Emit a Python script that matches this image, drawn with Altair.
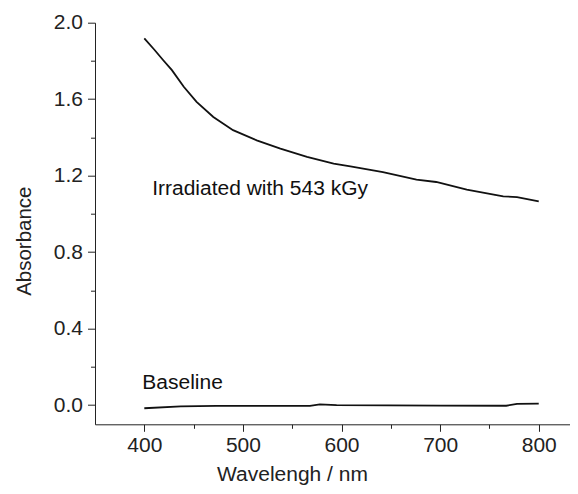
import altair as alt
import pandas as pd

# Irradiated sample spectrum
irr_wl = [400, 410, 419, 428, 440, 453, 470, 490, 514, 538, 565, 592, 609, 632, 642, 676, 696, 727, 764, 778, 800]
irr_abs = [1.918, 1.86, 1.805, 1.752, 1.665, 1.586, 1.507, 1.438, 1.385, 1.342, 1.298, 1.263, 1.249, 1.228, 1.219, 1.179, 1.167, 1.127, 1.092, 1.088, 1.066]

# Baseline spectrum
base_wl = [400, 437, 473, 568, 578, 595, 700, 767, 778, 800]
base_abs = [-0.016, -0.006, -0.004, -0.004, 0.004, 0.0, -0.002, -0.003, 0.007, 0.008]

# Annotations (data coordinates)
ann_text = ["Irradiated with 543 kGy", "Baseline"]
ann_x = [408, 398]
ann_y = [1.128, 0.115]

x_ticks = [400, 450, 500, 550, 600, 650, 700, 750, 800]
y_ticks = [0.0, 0.2, 0.4, 0.6, 0.8, 1.0, 1.2, 1.4, 1.6, 1.8, 2.0]

FONT = "Liberation Sans"

lines = pd.DataFrame({
    "wl": irr_wl + base_wl,
    "A": irr_abs + base_abs,
    "series": ["irr"] * len(irr_wl) + ["base"] * len(base_wl),
})
ann = pd.DataFrame({"t": ann_text, "x": ann_x, "y": ann_y})

xscale = alt.Scale(domain=[350, 831.7], nice=False, zero=False)
yscale = alt.Scale(domain=[-0.1, 2.0], nice=False, zero=False)

xaxis = alt.Axis(
    values=x_ticks,
    labelExpr="datum.value % 100 == 0 ? format(datum.value, 'd') : ''",
    tickSize={"condition": {"test": "datum.value % 100 == 0", "value": 7}, "value": 4},
    grid=False, domainColor="#222", tickColor="#222", labelColor="#222",
    labelFont=FONT, labelFontSize=21, labelPadding=3,
    title="Wavelengh / nm", titleFont=FONT, titleFontSize=21, titleFontWeight="normal",
    titleColor="#222", titleX=197, titleY=56.5, titleBaseline="alphabetic", titleAnchor="middle",
    titleAlign="center",
)
yaxis = alt.Axis(
    values=y_ticks,
    labelExpr="round(datum.value * 10) % 4 == 0 ? format(datum.value, '.1f') : ''",
    tickSize={"condition": {"test": "round(datum.value * 10) % 4 == 0", "value": 7.5}, "value": 4.5},
    grid=False, domainColor="#222", tickColor="#222", labelColor="#222",
    labelFont=FONT, labelFontSize=21, labelPadding=5,
    title="Absorbance", titleFont=FONT, titleFontSize=20.5, titleFontWeight="normal",
    titleColor="#222", titleX=-71, titleY=218, titleAngle=-90, titleBaseline="middle",
    titleAlign="center",
)

line = alt.Chart(lines).mark_line(color="#111", strokeWidth=1.8).encode(
    x=alt.X("wl:Q", scale=xscale, axis=xaxis),
    y=alt.Y("A:Q", scale=yscale, axis=yaxis),
    detail="series:N",
)

text = alt.Chart(ann).mark_text(
    align="left", baseline="middle", font=FONT, fontSize=21, color="#111"
).encode(x=alt.X("x:Q", scale=xscale), y=alt.Y("y:Q", scale=yscale), text="t:N")

chart = (line + text).properties(
    width=475, height=401.6,
    autosize=alt.AutoSizeParams(type="none"),
    padding={"left": 87, "top": 14.7, "right": 0, "bottom": 61.5},
).configure_view(stroke=None)

chart.save("out.html", embed_options={"renderer": "svg", "actions": False})
